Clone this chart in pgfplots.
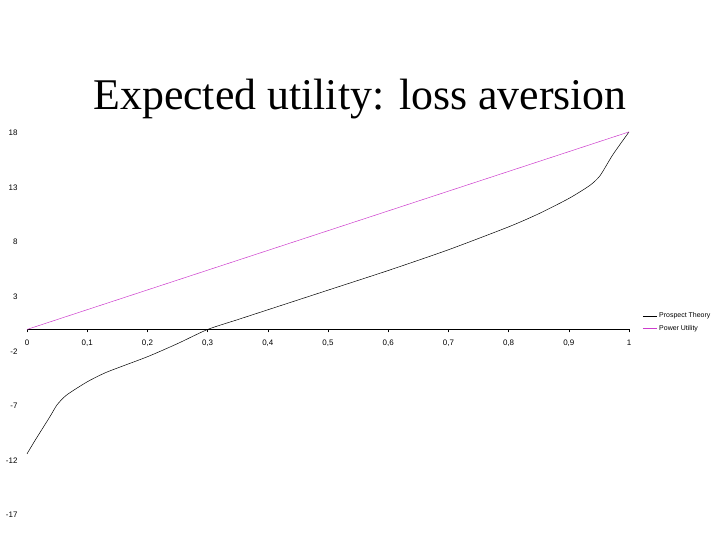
\documentclass[border=0pt]{standalone}
\usepackage{pgfplots}
\pgfplotsset{compat=1.18}
\usepackage{fontspec}
\setmainfont{Liberation Serif}
\newfontfamily\arialfont{Liberation Sans}
\definecolor{pu}{RGB}{205,60,205}
\begin{document}
\begin{tikzpicture}[x=1bp,y=1bp]
\path[use as bounding box] (0,0) rectangle (720,540);
\node[anchor=base,font=\fontsize{44}{48}\selectfont] at (360,430) {Expected utility: loss aversion};
\begin{axis}[
  at={(27bp,25bp)}, anchor=south west,
  scale only axis, width=602bp, height=382bp,
  xmin=0, xmax=1, ymin=-17, ymax=18,
  axis x line=middle, axis y line=left,
  hide obscured x ticks=false,
  y axis line style={draw=none},
  x axis line style={black, line width=0.8pt, -},
  xtick={0,0.1,0.2,0.3,0.4,0.5,0.6,0.7,0.8,0.9,1},
  xticklabels={0,{0,1},{0,2},{0,3},{0,4},{0,5},{0,6},{0,7},{0,8},{0,9},1},
  ytick={-17,-12,-7,-2,3,8,13,18},
  yticklabels={-17,-12,-7,-2,3,8,13,18},
  ytick style={draw=none},
  xtick style={black, line width=0.4pt},
  major tick length=3pt,
  tick align=outside,
  ticklabel style={font=\arialfont\fontsize{8}{9}\selectfont},
  xticklabel style={yshift=-4pt},
  yticklabel style={xshift=-3pt},
  clip=false,
  legend style={at={(1.022,0.535)}, anchor=north west, draw=none, fill=none,
    font=\arialfont\fontsize{7}{8}\selectfont, row sep=2pt,
    inner sep=0pt},
  legend cell align=left,
  legend image post style={line width=0.6pt},
  legend image code/.code={\draw[#1] (0cm,0cm) -- (0.5cm,0cm);},
]
\addplot[black, line width=0.5pt, smooth, tension=0.4] coordinates {
(0,-11.4) (0.013,-10.2) (0.038,-8.0) (0.05,-6.9) (0.066,-6.0) (0.1,-4.8)
(0.133,-3.9) (0.2,-2.5) (0.25,-1.3) (0.3,0.0) (0.35,0.9) (0.4,1.8)
(0.5,3.6) (0.6,5.4) (0.7,7.3) (0.8,9.4) (0.85,10.6) (0.9,12.0)
(0.935,13.2) (0.952,14.1) (0.973,16.0) (1,18.1)
};
\addlegendentry{Prospect Theory}
\addplot[pu, line width=0.5pt] coordinates {(0,0) (1,18.1)};
\addlegendentry{Power Utility}
\end{axis}
\end{tikzpicture}
\end{document}
